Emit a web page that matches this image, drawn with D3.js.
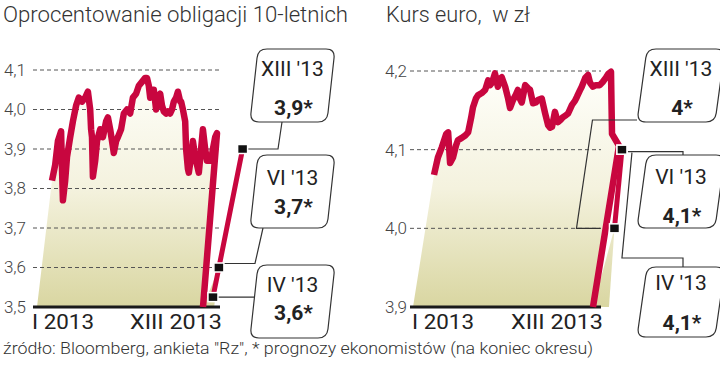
<!DOCTYPE html>
<html>
<head>
<meta charset="utf-8">
<script src="https://cdn.jsdelivr.net/npm/d3@7"></script>
<style>
  body { margin: 0; background: #fff; }
  svg text { font-family: Roboto, "Noto Sans", sans-serif; }
</style>
</head>
<body>
<div id="chart"></div>
<script>
// bond yield, day of year -> value
const yieldDays = [0, 7, 13, 20, 22, 24, 29, 33, 40, 46, 53, 59, 66, 73, 79, 84, 86, 88, 90, 95,
  99, 106, 112, 119, 123, 128, 132, 136, 141, 145, 152, 158, 165, 172, 178, 185, 191, 198, 205, 209,
  213, 216, 220, 224, 229, 233, 238, 242, 246, 251, 255, 260, 264, 268, 273, 277, 282, 284, 288, 293,
  295, 299, 301, 306, 310, 315, 319, 323, 328, 332, 337, 341, 345, 350, 354, 359, 363]
const yieldValues = [3.82, 3.86, 3.92, 3.945, 3.85, 3.77, 3.82, 3.88, 3.93, 3.97, 4.01, 4.03, 4.02, 4.03, 4.045, 4.0, 3.95, 3.93, 3.83, 3.87,
  3.92, 3.95, 3.93, 3.97, 3.98, 3.95, 3.92, 3.89, 3.92, 3.93, 3.95, 3.99, 4.0, 3.99, 4.03, 4.04, 4.06, 4.07, 4.08, 4.08,
  4.06, 4.03, 4.05, 4.05, 4.0, 4.03, 4.04, 4.01, 3.995, 3.99, 3.995, 3.99, 4.0, 4.02, 4.03, 4.045, 4.02, 4.02, 4.0, 3.97,
  3.9, 3.85, 3.84, 3.88, 3.92, 3.88, 3.86, 3.84, 3.9, 3.95, 3.9, 3.87, 3.87, 3.87, 3.9, 3.93, 3.94]

// euro rate
const euroDays = [0, 8, 16, 25, 29, 33, 39, 45, 49, 57, 64, 70, 76, 80, 86, 90, 98, 105, 111, 115,
  119, 125, 131, 135, 139, 146, 152, 156, 162, 168, 172, 176, 180, 187, 193, 197, 203, 209, 213, 221,
  228, 234, 238, 242, 248, 254, 260, 264, 271, 275, 283, 289, 293, 299, 303, 310, 316, 320, 326, 332,
  340, 346, 353, 357, 363]
const euroValues = [4.068, 4.09, 4.103, 4.12, 4.122, 4.083, 4.09, 4.105, 4.112, 4.115, 4.118, 4.122, 4.14, 4.154, 4.165, 4.169, 4.172, 4.176, 4.188, 4.182,
  4.185, 4.197, 4.18, 4.19, 4.192, 4.18, 4.165, 4.153, 4.163, 4.17, 4.176, 4.165, 4.16, 4.182, 4.178, 4.176, 4.159, 4.16, 4.163, 4.165,
  4.146, 4.131, 4.128, 4.129, 4.148, 4.135, 4.138, 4.141, 4.144, 4.146, 4.157, 4.162, 4.167, 4.175, 4.18, 4.191, 4.195, 4.185, 4.18, 4.182,
  4.182, 4.186, 4.192, 4.196, 4.199]

// forecasts (where the markers sit on the picture) and their labels
const forecastPeriods = ["IV '13", "VI '13", "XIII '13"]
const yieldForecast = [3.525, 3.6, 3.9]
const yieldForecastLabels = ["3,6*", "3,7*", "3,9*"]
const euroForecast = [4.1, 4.1, 4.0]
const euroForecastLabels = ["4,1*", "4,1*", "4*"]

const yieldTicks = [3.5, 3.6, 3.7, 3.8, 3.9, 4.0, 4.1]
const euroTicks = [3.9, 4.0, 4.1, 4.2]
const xTickLabels = ["I 2013", "XIII 2013"]

const red = "#c8063f"
const fmt = d => d3.format(".1f")(d).replace(".", ",")

const svg = d3.select("#chart").append("svg")
  .attr("width", 720).attr("height", 376)

const defs = svg.append("defs")
const grad = defs.append("linearGradient").attr("id", "fillGrad")
  .attr("gradientUnits", "userSpaceOnUse")
  .attr("x1", 0).attr("y1", 70).attr("x2", 0).attr("y2", 307)
grad.append("stop").attr("offset", "0%").attr("stop-color", "#fffffb")
grad.append("stop").attr("offset", "50%").attr("stop-color", "#f4f2de")
grad.append("stop").attr("offset", "100%").attr("stop-color", "#d9d6a1")

// rounded corners for a polygon
function roundedPath(pts, r) {
  const p = d3.path()
  const n = pts.length
  for (let i = 0; i < n; i++) {
    const c = pts[i], a = pts[(i + n - 1) % n], b = pts[(i + 1) % n]
    const la = Math.hypot(a[0] - c[0], a[1] - c[1]), lb = Math.hypot(b[0] - c[0], b[1] - c[1])
    const p1 = [c[0] + (a[0] - c[0]) * r / la, c[1] + (a[1] - c[1]) * r / la]
    const p2 = [c[0] + (b[0] - c[0]) * r / lb, c[1] + (b[1] - c[1]) * r / lb]
    if (i === 0) p.moveTo(p1[0], p1[1]); else p.lineTo(p1[0], p1[1])
    p.quadraticCurveTo(c[0], c[1], p2[0], p2[1])
  }
  p.closePath()
  return p.toString()
}

function drawChart(cfg) {
  const g = svg.append("g")
  const y = d3.scaleLinear().domain(cfg.yDomain).range([307, cfg.yTop])
  const x = d3.scaleLinear().domain([0, 363]).range(cfg.xRange)
  const yBase = y(cfg.yDomain[0])

  // title
  g.append("text").attr("x", cfg.titleX).attr("y", 22)
    .attr("font-size", 22).attr("font-weight", 300).attr("fill", "#333")
    .attr("textLength", cfg.titleLen).attr("lengthAdjust", "spacingAndGlyphs")
    .style("white-space", "pre")
    .text(cfg.title)

  const pts = cfg.days.map((d, i) => [x(d), y(cfg.values[i])])
  const last = pts[pts.length - 1]
  const dropBottom = [cfg.dropX, yBase]
  // the line falls down the right edge of the plane
  const drop = cfg.dropVia
    ? [[last[0] + 1, y(cfg.dropVia[1] + 0.015)], [last[0] + cfg.dropVia[0], y(cfg.dropVia[1])], dropBottom]
    : [dropBottom]

  // history area
  g.append("path")
    .attr("d", d3.line()(pts.concat(drop, [[cfg.areaLeftX, yBase]])) + "Z")
    .attr("fill", "url(#fillGrad)")

  // forecast markers positions
  const fpts = cfg.forecast.map(v => [cfg.fx0 + cfg.fs * (yBase - y(v)), y(v)])

  // small fill sliver under the forecast edge
  const sv = fpts[cfg.sliver]
  g.append("path")
    .attr("d", d3.line()([dropBottom, sv, [sv[0] - cfg.sliverSkew * (yBase - sv[1]), yBase]]) + "Z")
    .attr("fill", "url(#fillGrad)")

  // gridlines
  g.selectAll(".grid").data(cfg.ticks.slice(1)).join("line")
    .attr("x1", cfg.gridX[0]).attr("x2", cfg.gridX[1])
    .attr("y1", d => y(d)).attr("y2", d => y(d))
    .attr("stroke", "#555").attr("stroke-width", 1).attr("stroke-dasharray", "4,3")

  // baseline
  g.append("line").attr("x1", cfg.gridX[0]).attr("x2", cfg.gridX[1])
    .attr("y1", yBase).attr("y2", yBase).attr("stroke", "#1a1a1a").attr("stroke-width", 3)

  // y labels
  g.selectAll(".ylab").data(cfg.ticks).join("text")
    .attr("x", cfg.labelX).attr("y", d => y(d)).attr("dy", "0.35em")
    .attr("text-anchor", "end").attr("font-size", 17).attr("font-weight", 300)
    .attr("fill", "#444").text(fmt)

  // x labels
  g.append("text").attr("x", cfg.xLabX[0]).attr("y", 329).attr("font-size", 21)
    .attr("textLength", 62).attr("lengthAdjust", "spacingAndGlyphs")
    .attr("fill", "#222").text(xTickLabels[0])
  g.append("text").attr("x", cfg.xLabX[1] - 92).attr("y", 329).attr("font-size", 21)
    .attr("textLength", 92).attr("lengthAdjust", "spacingAndGlyphs")
    .attr("fill", "#222").text(xTickLabels[1])

  // history line + edge drop
  g.append("path").attr("d", d3.line()(pts.concat(drop)))
    .attr("fill", "none").attr("stroke", red).attr("stroke-width", 6.5)
    .attr("stroke-linejoin", "round")

  // forecast line
  g.append("path").attr("d", d3.line()(fpts))
    .attr("fill", "none").attr("stroke", red).attr("stroke-width", 5)

  // connectors
  cfg.boxes.forEach((b, i) => {
    const bx = { x: cfg.boxX, top: b.top, bottom: b.top + b.h, w: cfg.boxW, sk: cfg.boxSkew, h: b.h }
    g.append("path").attr("d", d3.line()(cfg.connect[i](fpts[i], bx)))
      .attr("fill", "none").attr("stroke", "#333").attr("stroke-width", 1.2)
  })

  // markers
  g.selectAll(".mark").data(fpts).join("rect")
    .attr("x", d => d[0] - 5).attr("y", d => d[1] - 4.5)
    .attr("width", 10).attr("height", 9)
    .attr("fill", "#111").attr("stroke", "#fff").attr("stroke-width", 1.5)

  // label boxes
  cfg.boxes.forEach((b, i) => {
    const bottom = b.top + b.h
    const x0 = cfg.boxX, sk = cfg.boxSkew, w = cfg.boxW
    g.append("path")
      .attr("d", roundedPath([[x0 + sk, b.top], [x0 + sk + w, b.top], [x0 + w, bottom], [x0, bottom]], 9))
      .attr("fill", "#fff").attr("stroke", "#333").attr("stroke-width", 1.2)
    const cx = x0 + w / 2 + sk / 2
    g.append("text").attr("x", cx).attr("y", b.top + b.l1).attr("text-anchor", "middle")
      .attr("font-size", 21).attr("fill", "#222").text(forecastPeriods[i])
    g.append("text").attr("x", cx + 1).attr("y", b.top + b.l2).attr("text-anchor", "middle")
      .attr("font-size", 21).attr("font-weight", 700).attr("fill", "#222").text(cfg.labels[i])
  })
}

drawChart({
  title: "Oprocentowanie obligacji 10-letnich", titleX: 3, titleLen: 345,
  days: yieldDays, values: yieldValues, ticks: yieldTicks,
  yDomain: [3.5, 4.1], yTop: 70, xRange: [52, 217],
  gridX: [33, 220], labelX: 26, xLabX: [32, 222],
  areaLeftX: 37, dropX: 203, dropVia: null,
  forecast: yieldForecast, labels: yieldForecastLabels,
  fx0: 211, fs: 0.2, sliver: 1, sliverSkew: 0.12,
  boxX: 250, boxW: 77, boxSkew: 8,
  boxes: [{ top: 265, h: 73, l1: 27, l2: 55 }, { top: 155, h: 73, l1: 30, l2: 59 }, { top: 49, h: 73, l1: 27, l2: 66 }],
  connect: [
    (m, b) => [[m[0] + 5, m[1]], [b.x + b.sk * (b.bottom - m[1]) / b.h, m[1]]],
    (m, b) => [[m[0] + 5, m[1] - 4], [b.x + 5, m[1] - 4], [b.x + 13, b.bottom]],
    (m, b) => [[m[0] + 5, m[1]], [b.x + 28, m[1]], [b.x + 32, b.bottom]]
  ]
})

drawChart({
  title: "Kurs euro,  w zł", titleX: 386, titleLen: 144,
  days: euroDays, values: euroValues, ticks: euroTicks,
  yDomain: [3.9, 4.2], yTop: 71, xRange: [434, 611],
  gridX: [410, 601], labelX: 407, xLabX: [412, 603],
  areaLeftX: 413, dropX: 593, dropVia: [8, 4.105],
  forecast: euroForecast, labels: euroForecastLabels,
  fx0: 607, fs: 0.095, sliver: 2, sliverSkew: 0.07,
  boxX: 637, boxW: 78, boxSkew: 10,
  boxes: [{ top: 267, h: 70, l1: 23, l2: 63 }, { top: 155, h: 73, l1: 29, l2: 68 }, { top: 49, h: 73, l1: 27, l2: 66 }],
  connect: [
    (m, b) => [[m[0] + 10, m[1] + 3], [m[0], b.top - 9], [b.x + 46, b.top - 9], [b.x + 46, b.top]],
    (m, b) => [[m[0] + 6, m[1] + 2], [b.x + 46, m[1] + 2], [b.x + 46, b.top]],
    (m, b) => [[b.x, b.bottom - 2], [m[0] - 22, b.bottom - 2], [m[0] - 38, m[1]], [m[0] - 14, m[1]]]
  ]
})

// footer
svg.append("text").attr("x", 3).attr("y", 354).attr("font-size", 17).attr("font-weight", 300)
  .attr("fill", "#333").attr("textLength", 590).attr("lengthAdjust", "spacingAndGlyphs")
  .text("źródło: Bloomberg, ankieta \"Rz\", * prognozy ekonomistów (na koniec okresu)")
</script>
</body>
</html>
